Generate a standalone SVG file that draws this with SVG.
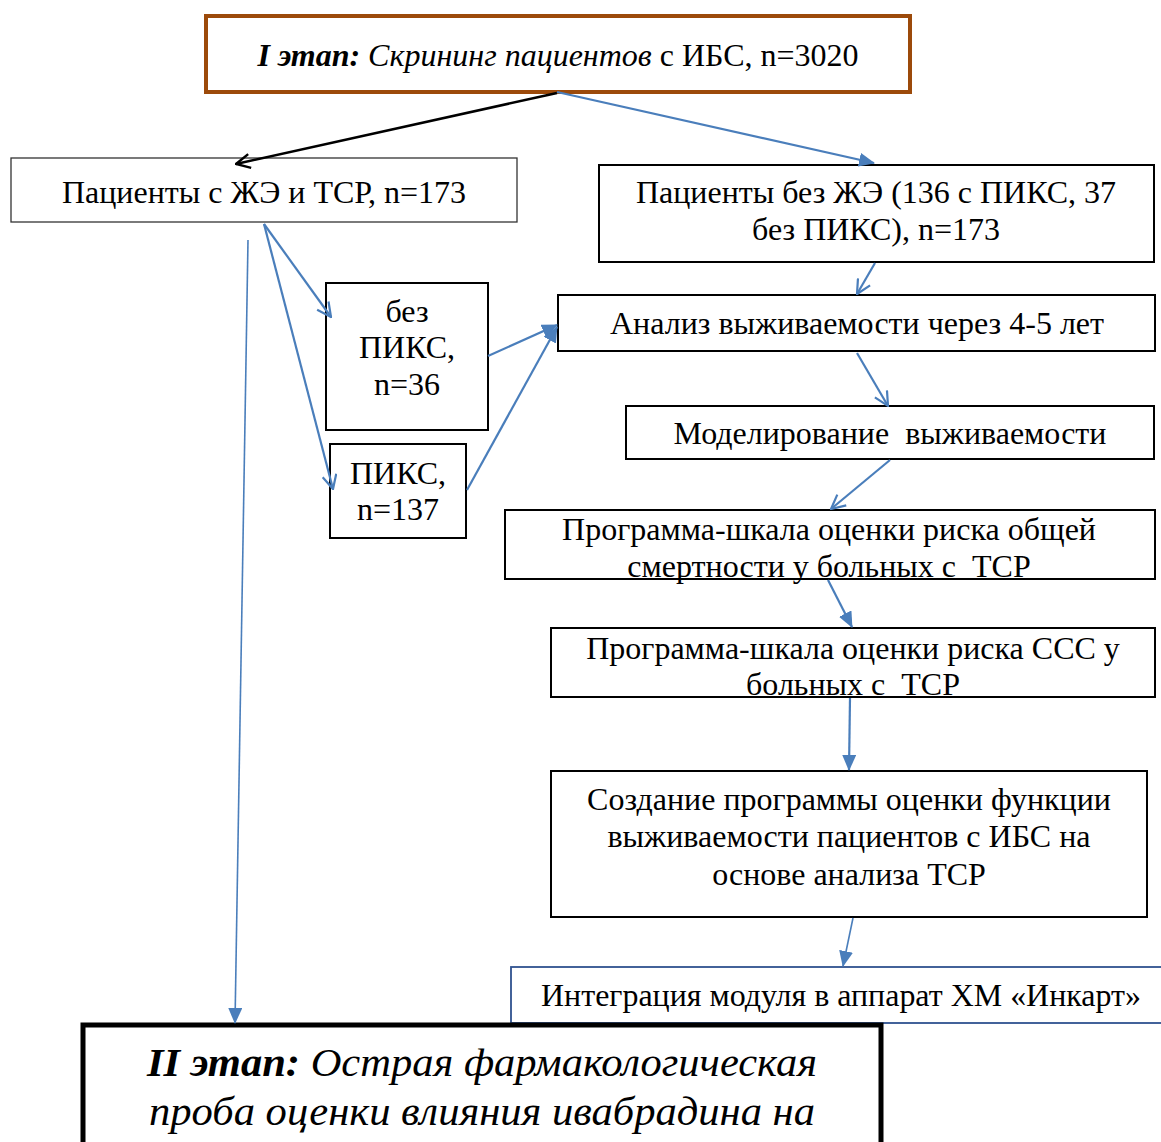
<svg xmlns="http://www.w3.org/2000/svg" width="1161" height="1142" viewBox="0 0 1161 1142">
<style>
text{font-family:"Liberation Serif","Times New Roman",serif;font-size:32px;fill:#000;text-anchor:middle}
.box{fill:#fff;stroke:#000;stroke-width:2}
.thin{fill:#fff;stroke:#333;stroke-width:1.3}
.c{fill:none;stroke:#4A7EBB;stroke-width:2.2}
.cb{fill:none;stroke:#000;stroke-width:2.5}
</style>
<defs>
<marker id="open" viewBox="0 0 16 16" refX="15" refY="8" markerWidth="16" markerHeight="16" markerUnits="userSpaceOnUse" orient="auto">
<path d="M1,1 L15,8 L1,15" fill="none" stroke="#4A7EBB" stroke-width="2.2"/>
</marker>
<marker id="openb" viewBox="0 0 16 16" refX="15" refY="8" markerWidth="16" markerHeight="16" markerUnits="userSpaceOnUse" orient="auto">
<path d="M1,1 L15,8 L1,15" fill="none" stroke="#000" stroke-width="2.4"/>
</marker>
<marker id="fill" viewBox="0 0 16 14" refX="15" refY="7" markerWidth="16" markerHeight="14" markerUnits="userSpaceOnUse" orient="auto">
<path d="M0,0 L16,7 L0,14 Z" fill="#4A7EBB"/>
</marker>
</defs>

<g id="stage1">
<rect x="206" y="16" width="704" height="76" fill="#fff" stroke="#9C4A0A" stroke-width="4"/>
<text x="558" y="66"><tspan font-weight="bold" font-style="italic">I этап:</tspan><tspan font-style="italic"> Скрининг пациентов</tspan> с ИБС, n=3020</text>
</g>

<g id="with-ve">
<rect class="thin" x="11" y="158" width="506" height="64"/>
<text x="264" y="203">Пациенты с ЖЭ и ТСР, n=173</text>
</g>

<g id="without-ve">
<rect class="box" x="599" y="165" width="555" height="97"/>
<text x="876" y="203">Пациенты без ЖЭ (136 с ПИКС, 37</text>
<text x="876" y="240">без ПИКС), n=173</text>
</g>

<g id="no-piks">
<rect class="box" x="326" y="283" width="162" height="147"/>
<text x="407" y="322">без</text>
<text x="407" y="358">ПИКС,</text>
<text x="407" y="395">n=36</text>
</g>

<g id="piks">
<rect class="box" x="330" y="444" width="136" height="94"/>
<text x="398" y="484">ПИКС,</text>
<text x="398" y="520">n=137</text>
</g>

<g id="analysis">
<rect class="box" x="558" y="295" width="597" height="56"/>
<text x="857" y="334">Анализ выживаемости через 4-5 лет</text>
</g>

<g id="modeling">
<rect class="box" x="626" y="406" width="528" height="53"/>
<text x="890" y="444" xml:space="preserve">Моделирование  выживаемости</text>
</g>

<g id="scale-mortality">
<rect class="box" x="505" y="510" width="650" height="69"/>
<text x="829" y="540">Программа-шкала оценки риска общей</text>
<text x="829" y="577" xml:space="preserve">смертности у больных с  ТСР</text>
</g>

<g id="scale-ccc">
<rect class="box" x="551" y="628" width="604" height="69"/>
<text x="853" y="659">Программа-шкала оценки риска ССС у</text>
<text x="853" y="695" xml:space="preserve">больных с  ТСР</text>
</g>

<g id="program">
<rect class="box" x="551" y="771" width="596" height="146"/>
<text x="849" y="810">Создание программы оценки функции</text>
<text x="849" y="847">выживаемости пациентов с ИБС на</text>
<text x="849" y="885">основе анализа ТСР</text>
</g>

<g id="integration">
<rect x="511" y="967" width="660" height="56" fill="#fff" stroke="#2F528F" stroke-width="1.8"/>
<text x="841" y="1006" textLength="600" lengthAdjust="spacingAndGlyphs">Интеграция модуля в аппарат ХМ «Инкарт»</text>
</g>

<g id="stage2">
<rect x="83" y="1025" width="798" height="140" fill="#fff" stroke="#000" stroke-width="5"/>
<text x="482" y="1076" style="font-size:40px" textLength="670" lengthAdjust="spacingAndGlyphs"><tspan font-weight="bold" font-style="italic">II этап:</tspan><tspan font-style="italic"> Острая фармакологическая</tspan></text>
<text x="482" y="1125" style="font-size:40px;font-style:italic" textLength="666" lengthAdjust="spacingAndGlyphs">проба оценки влияния ивабрадина на</text>
</g>

<g id="connectors">
<line class="cb" x1="557" y1="93" x2="236" y2="164" marker-end="url(#openb)"/>
<line class="c" x1="557" y1="92" x2="874" y2="163" marker-end="url(#fill)"/>
<line class="c" x1="264" y1="224" x2="331" y2="317" marker-end="url(#open)"/>
<line class="c" x1="264" y1="224" x2="333" y2="489" marker-end="url(#open)"/>
<line class="c" style="stroke-width:1.6" x1="248" y1="240" x2="235" y2="1023" marker-end="url(#fill)"/>
<line class="c" x1="488" y1="356" x2="557" y2="325" marker-end="url(#fill)"/>
<line class="c" x1="467" y1="490" x2="557" y2="327" marker-end="url(#fill)"/>
<line class="c" x1="875" y1="263" x2="857" y2="294" marker-end="url(#open)"/>
<line class="c" x1="857" y1="353" x2="888" y2="406" marker-end="url(#open)"/>
<line class="c" x1="890" y1="460" x2="831" y2="509" marker-end="url(#open)"/>
<line class="c" x1="828" y1="580" x2="852" y2="627" marker-end="url(#fill)"/>
<line class="c" x1="850" y1="698" x2="849" y2="770" marker-end="url(#fill)"/>
<line class="c" style="stroke-width:1.6" x1="853" y1="918" x2="843" y2="966" marker-end="url(#fill)"/>
</g>
</svg>
